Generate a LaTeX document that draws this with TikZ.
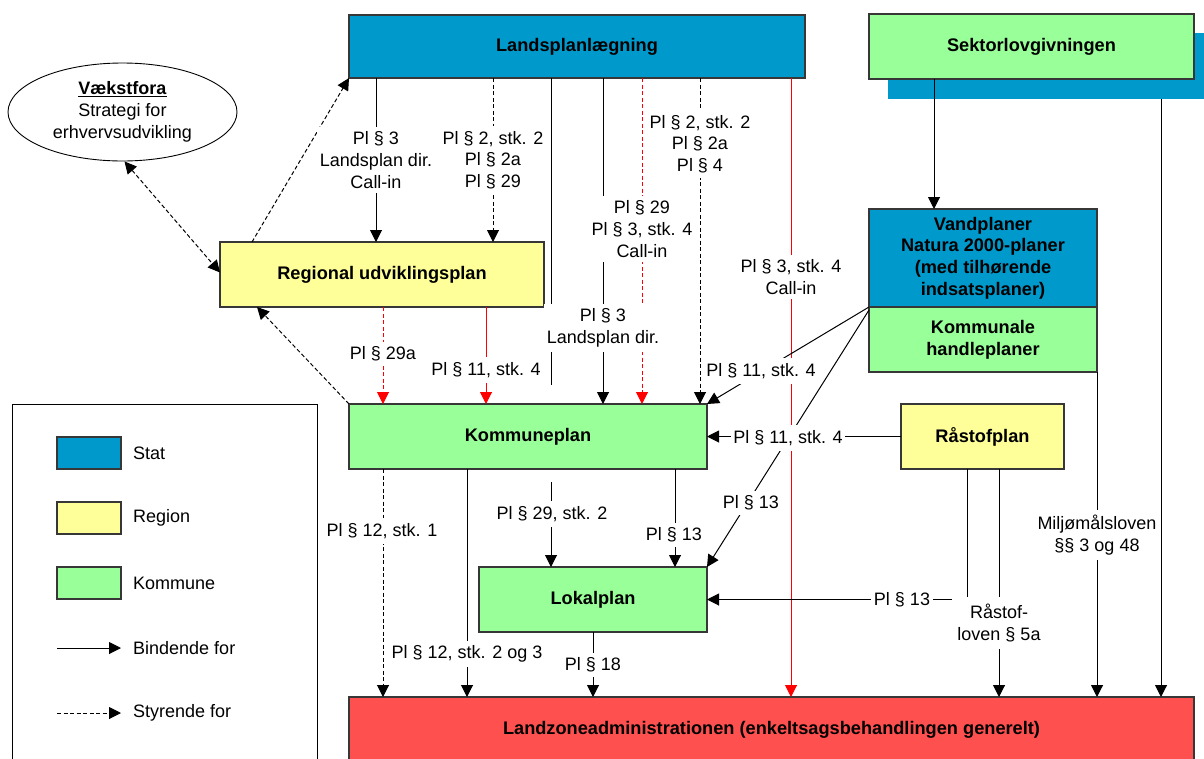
\documentclass[tikz,border=0pt]{standalone}
\usepackage{fontspec}
\setmainfont{Liberation Sans}
\usetikzlibrary{arrows.meta,shapes.geometric}

\definecolor{stat}{RGB}{0,153,204}
\definecolor{region}{RGB}{255,255,153}
\definecolor{kommune}{RGB}{153,255,153}
\definecolor{landzone}{RGB}{255,80,80}
\definecolor{frame}{RGB}{55,55,55}

\tikzset{
  box/.style={draw=frame, line width=1.1pt, inner sep=0pt, outer sep=0pt,
    align=center, font=\fontsize{18.2}{21.7}\selectfont\bfseries},
  tip/.style={-{Triangle[length=12pt,width=12pt]}},
  plain/.style={draw=black, line width=1pt},
  bind/.style={plain, tip},
  steer/.style={bind, dash pattern=on 4pt off 2.5pt},
  redbind/.style={bind, color=red},
  redsteer/.style={steer, color=red},
  lbl/.style={fill=white, inner xsep=2.5pt, inner ysep=5pt, align=center},
  legtext/.style={anchor=west, inner sep=0pt}
}

\begin{document}
\begin{tikzpicture}[x=1pt, y=-1pt, font=\fontsize{18}{21.7}\selectfont]
\useasboundingbox (0,0) rectangle (1204,758);
\clip (0,0) rectangle (1204,758);

% ---------- boxes ----------
\node[box, fill=stat, minimum width=456, minimum height=63] (lp) at (577,46.5) {Landsplanlægning};
\node[fill=stat, inner sep=0pt, minimum width=330, minimum height=66, anchor=north west] (shadow) at (888,33) {};
\node[box, fill=kommune, minimum width=325, minimum height=65] (sek) at (1031.5,46.5) {Sektorlovgivningen};
\node[box, fill=stat, minimum width=228, minimum height=98] (vand) at (983,258)
  {Vandplaner\\Natura 2000-planer\\(med tilhørende\\indsatsplaner)};
\node[box, fill=kommune, minimum width=228, minimum height=65] (khp) at (983,339.5)
  {Kommunale\\handleplaner};
\node[box, fill=region, minimum width=163, minimum height=65] (rast) at (982.5,436.5) {Råstofplan};
\node[box, fill=region, minimum width=324, minimum height=65] (reg) at (382,274.5) {Regional udviklingsplan};
\node[draw=black, line width=0.9pt, ellipse, minimum width=229, minimum height=98, inner sep=0pt, align=center]
  (vaek) at (122.5,112) {\underline{\textbf{Vækstfora}}\\Strategi for\\erhvervsudvikling};
\node[box, fill=kommune, minimum width=358, minimum height=65] (kp) at (528,436.5) {Kommuneplan};
\node[box, fill=kommune, minimum width=228, minimum height=65] (lok) at (593,599.5) {Lokalplan};
\node[box, fill=landzone, minimum width=845, minimum height=66] (lza) at (771.5,730)
  {Landzoneadministrationen (enkeltsagsbehandlingen generelt)};

% ---------- legend ----------
\node[draw=black, line width=1pt, inner sep=0pt, minimum width=305, minimum height=380, anchor=north west] (legend) at (12,404) {};
\node[box, fill=stat, minimum width=64, minimum height=32] (swstat) at (89,453) {};
\node[legtext] (tstat) at (133,453) {Stat};
\node[box, fill=region, minimum width=64, minimum height=32] (swreg) at (89,518) {};
\node[legtext] (treg) at (133,518) {Region};
\node[box, fill=kommune, minimum width=64, minimum height=32] (swkom) at (89,583) {};
\node[legtext] (tkom) at (133,583) {Kommune};
\coordinate (bindA) at (57,648);
\coordinate (bindB) at (121,648);
\draw[bind] (bindA) -- (bindB);
\node[legtext] (tbind) at (133,648) {Bindende for};
\coordinate (steerA) at (57,713);
\coordinate (steerB) at (121,713);
\draw[steer] (steerA) -- (steerB);
\node[legtext] (tsteer) at (133,713) {Styrende for};

% ---------- connectors from Landsplanlægning ----------
\coordinate (stub) at (551,385);
\draw[bind] (lp.south -| 376,0) -- (reg.north -| 376,0);
\draw[steer] (lp.south -| 493,0) -- (reg.north -| 493,0);
\draw[plain] (lp.south -| stub) -- (stub);
\draw[bind] (lp.south -| 603,0) -- (kp.north -| 603,0);
\draw[redsteer] (lp.south -| 642,0) -- (kp.north -| 642,0);
\draw[steer] (lp.south -| 700,0) -- (kp.north -| 700,0);
\draw[redbind] (lp.south -| 791,0) -- (lza.north -| 791,0);

% ---------- region to kommune and feedback ----------
\draw[redsteer] (reg.south -| 383,0) -- (kp.north -| 383,0);
\draw[redbind] (reg.south -| 486,0) -- (kp.north -| 486,0);
\draw[steer] (kp.north west) -- ([xshift=37pt]reg.south west);
\draw[steer] ([xshift=32pt]reg.north west) -- (lp.south west);
\draw[steer, {Triangle[length=12pt,width=12pt]}-{Triangle[length=12pt,width=12pt]}]
  ([xshift=2pt]vaek.south) -- ([yshift=2pt]reg.west);

% ---------- sector legislation ----------
\draw[bind] (sek.south -| 934,0) -- (vand.north -| 934,0);
\draw[bind] (shadow.south -| 1161,0) -- (lza.north -| 1161,0);
\draw[bind] (khp.south east) -- (lza.north -| khp.south east);
\draw[bind] (vand.south west) -- (kp.north east);
\draw[bind] ([yshift=-3pt]vand.south west) -- (lok.north east);

% ---------- råstofplan ----------
\draw[bind] (rast.west) -- (kp.east);
\draw[bind] (rast.south -| 967,0) |- (lok.east);
\draw[bind] (rast.south -| 999,0) -- (lza.north -| 999,0);

% ---------- kommuneplan and lokalplan downward ----------
\draw[steer] (kp.south -| 383,0) -- (lza.north -| 383,0);
\draw[bind] (kp.south -| 467,0) -- (lza.north -| 467,0);
\draw[bind, shorten <=13pt] (kp.south -| 551,0) -- (lok.north -| 551,0);
\draw[bind] (kp.south -| 675,0) -- (lok.north -| 675,0);
\draw[bind] (lok.south) -- (lza.north -| lok.south);

% ---------- connector labels ----------
\node[lbl] (l1) at (376,160) {Pl § 3\\Landsplan dir.\\Call-in};
\node[lbl] (l2) at (493,160) {Pl § 2, stk. 2\\Pl § 2a\\Pl § 29};
\node[lbl] (l3) at (700,144) {Pl § 2, stk. 2\\Pl § 2a\\Pl § 4};
\node[lbl] (l4) at (642,229) {Pl § 29\\Pl § 3, stk. 4\\Call-in};
\node[lbl] (l5) at (791,277) {Pl § 3, stk. 4\\Call-in};
\node[lbl] (l6) at (603,328) {Pl § 3\\Landsplan dir.};
\node[lbl] (l7) at (383,354) {Pl § 29a};
\node[lbl] (l8) at (486,370) {Pl § 11, stk. 4};
\node[lbl] (l9) at (761,371) {Pl § 11, stk. 4};
\node[lbl] (l10) at (788,438) {Pl § 11, stk. 4};
\node[lbl] (l11) at (751,503) {Pl § 13};
\node[lbl] (l12) at (382,531) {Pl § 12, stk. 1};
\node[lbl] (l13) at (552,514) {Pl § 29, stk. 2};
\node[lbl] (l14) at (674,535) {Pl § 13};
\node[lbl] (l15) at (1097,535) {Miljømålsloven\\§§ 3 og 48};
\node[lbl] (l16) at (902,600) {Pl § 13};
\node[lbl, minimum width=94, inner ysep=7pt] (l17) at (999,623) {Råstof-\\loven § 5a};
\node[lbl] (l18) at (467,654) {Pl § 12, stk. 2 og 3};
\node[lbl] (l19) at (593,665) {Pl § 18};
\end{tikzpicture}
\end{document}
